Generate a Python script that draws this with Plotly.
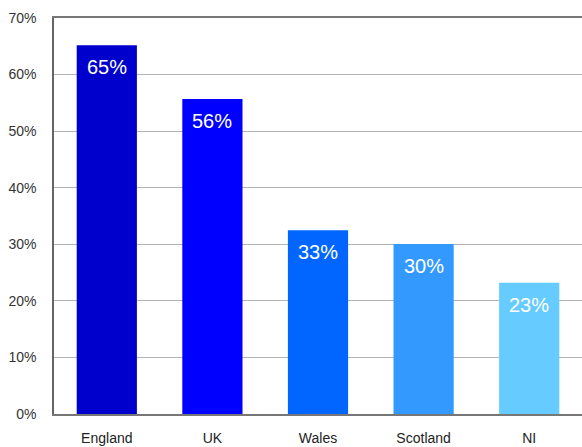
import plotly.graph_objects as go

categories = ["England", "UK", "Wales", "Scotland", "NI"]
values = [65.2, 55.7, 32.5, 30.05, 23.2]
labels = ["65%", "56%", "33%", "30%", "23%"]
colors = ["#0000CC", "#0000FF", "#0066FF", "#3399FF", "#66CCFF"]
tick_vals = [0, 10, 20, 30, 40, 50, 60, 70]
tick_text = ["0%", "10%", "20%", "30%", "40%", "50%", "60%", "70%"]

fig = go.Figure()
fig.add_trace(go.Bar(
    x=categories, y=values,
    marker=dict(color=colors, line=dict(width=0)),
    width=0.57,
    hoverinfo="skip",
))
for c, v, t in zip(categories, values, labels):
    fig.add_annotation(x=c, y=v, text=t, showarrow=False, yanchor="top", yshift=-9,
                       font=dict(family="Liberation Sans, Arial", size=20, color="white"))

fig.update_layout(
    width=582, height=447,
    margin=dict(l=54, r=0, t=18, b=33),
    paper_bgcolor="white", plot_bgcolor="white",
    showlegend=False,
    font=dict(family="Liberation Sans, Arial", size=14, color="#333333"),
    bargap=0.43,
)
fig.update_xaxes(showline=True, mirror=True, linecolor="#777777", linewidth=1.5,
                 ticks="", showgrid=False, ticklabelstandoff=10,
                 tickfont=dict(size=14, color="#222222"))
fig.update_yaxes(range=[0, 70], tickvals=tick_vals, ticktext=tick_text,
                 showline=True, linecolor="#666666", linewidth=1.5,
                 showgrid=True, gridcolor="#B4B4B4", gridwidth=1,
                 zeroline=False, ticks="", ticklabelstandoff=13,
                 tickfont=dict(size=14, color="#333333"))
fig.write_html("out.html", config={"displayModeBar": False},
               post_script="document.body.style.margin='0px';")
